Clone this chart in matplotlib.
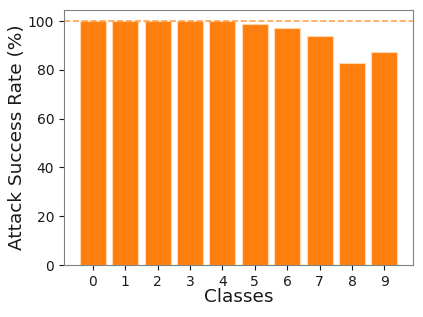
import numpy as np
import matplotlib
matplotlib.use('Agg')
import matplotlib.pyplot as plt

classes = [str(i) for i in range(10)]
success_rate = [100, 100, 100, 100, 100, 98.8, 97.0, 94.0, 83.0, 87.3]

fig = plt.figure(figsize=(4.23, 3.17), dpi=100)
ax = fig.add_axes([0.151, 0.164, 0.826, 0.804])
ax.bar(classes, success_rate, width=0.8, color='#ff7f0e', edgecolor='#ffd9b0', linewidth=0.8)
ax.axhline(100, color='#ff7f0e', linestyle='--', linewidth=1.2, alpha=0.7)
ax.set_ylim(0, 104.5)
ax.set_xlabel('Classes', fontsize=13.3, color='#1a1a1a')
ax.set_ylabel('Attack Success Rate (%)', fontsize=13.3, color='#1a1a1a')
ax.yaxis.set_label_coords(-0.108, 0.5)
ax.xaxis.set_label_coords(0.5, -0.09)
ax.tick_params(labelsize=10, colors='#1a1a1a')
for s in ax.spines.values():
    s.set_edgecolor('#808080')
fig.savefig('out.png', dpi=100)
